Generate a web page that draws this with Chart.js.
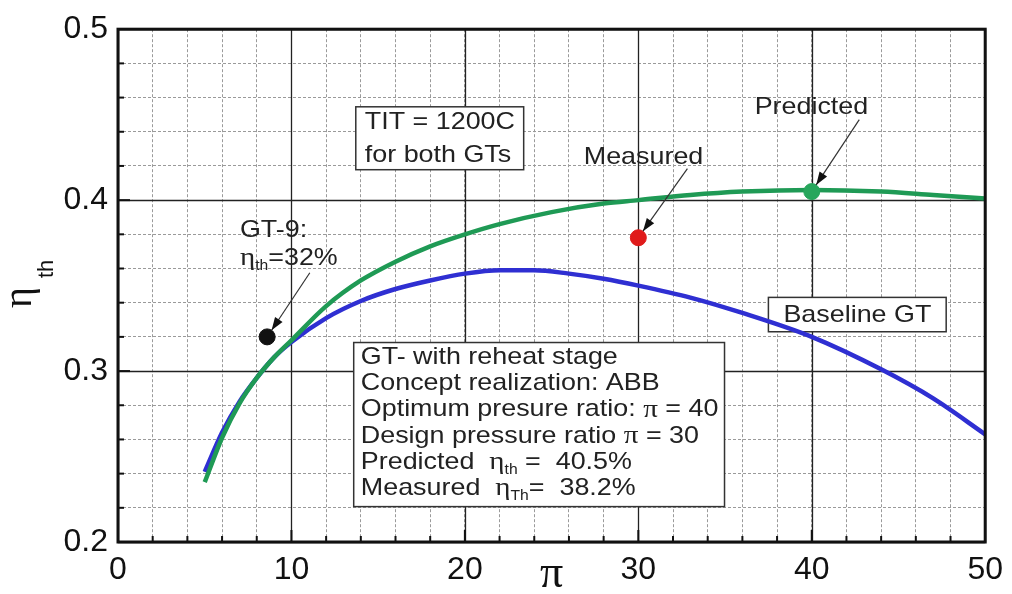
<!DOCTYPE html>
<html>
<head>
<meta charset="utf-8">
<script src="https://cdn.jsdelivr.net/npm/chart.js@4.4.1/dist/chart.umd.min.js"></script>
<style>
  html, body { margin: 0; background: #ffffff; }
</style>
</head>
<body>
<canvas id="effChart" width="1012" height="594"></canvas>
<script>
// pressure ratio (pi) and thermal efficiency
const xReheat = [5, 6, 7, 8, 9, 10, 12, 14, 16, 18, 20, 22, 25, 28, 30, 33, 36, 40, 44, 47, 50];
const yReheat = [0.235, 0.261, 0.281, 0.296, 0.308, 0.318, 0.338, 0.353, 0.364, 0.373, 0.380, 0.386, 0.393, 0.398, 0.400, 0.403, 0.405, 0.406, 0.405, 0.403, 0.401];

const xBaseline = [5, 6, 7, 8, 9, 10, 12, 14, 16, 18, 20, 22, 24, 26, 28, 30, 33, 36, 40, 44, 47, 50];
const yBaseline = [0.241, 0.264, 0.282, 0.296, 0.308, 0.317, 0.331, 0.341, 0.348, 0.353, 0.357, 0.359, 0.359, 0.357, 0.354, 0.350, 0.343, 0.334, 0.320, 0.301, 0.284, 0.263];

const pointNames = ["GT-9", "Measured", "Predicted"];
const pointX = [8.6, 30.0, 40.0];
const pointY = [0.320, 0.378, 0.405];
const pointColors = ["#111111", "#e01b1b", "#27a65c"];

const xTickLabels = [0, 10, 20, 30, 40, 50];
const yTickLabels = [0.2, 0.3, 0.4, 0.5];

const SANS = "'Liberation Sans', Arial, sans-serif";
const SERIF = "'Liberation Serif', 'Times New Roman', serif";
const SX = 1.12; // the figure's lettering is a bit wide
const TEXT = "#222222";

const toXY = (xs, ys) => xs.map((x, i) => ({ x: x, y: ys[i] }));
const isMajor = (v, step) => Math.abs(v / step - Math.round(v / step)) < 1e-6;

// draw a run of text pieces, stretched sideways; pieces may be subscripts
function drawRuns(ctx, runs, x, y, align) {
  let total = 0;
  runs.forEach((r) => {
    ctx.font = r.font;
    total += ctx.measureText(r.t).width * SX;
  });
  let cx = align === "center" ? x - total / 2 : x;
  runs.forEach((r) => {
    ctx.font = r.font;
    const w = ctx.measureText(r.t).width * SX;
    ctx.save();
    ctx.translate(cx, y + (r.dy || 0));
    ctx.scale(SX, 1);
    ctx.textAlign = "left";
    ctx.fillText(r.t, 0, 0);
    ctx.restore();
    cx += w;
  });
}

function arrow(ctx, x1, y1, x2, y2, r) {
  const a = Math.atan2(y2 - y1, x2 - x1);
  const tx = x2 - Math.cos(a) * r;
  const ty = y2 - Math.sin(a) * r;
  ctx.strokeStyle = "#333333";
  ctx.lineWidth = 1.2;
  ctx.beginPath();
  ctx.moveTo(x1, y1);
  ctx.lineTo(tx, ty);
  ctx.stroke();
  const L = 13, W = 4.5;
  ctx.fillStyle = "#111111";
  ctx.beginPath();
  ctx.moveTo(tx, ty);
  ctx.lineTo(tx - Math.cos(a) * L + Math.sin(a) * W, ty - Math.sin(a) * L - Math.cos(a) * W);
  ctx.lineTo(tx - Math.cos(a) * L - Math.sin(a) * W, ty - Math.sin(a) * L + Math.cos(a) * W);
  ctx.closePath();
  ctx.fill();
}

function box(ctx, x1, y1, x2, y2) {
  ctx.fillStyle = "#ffffff";
  ctx.fillRect(x1, y1, x2 - x1, y2 - y1);
  ctx.strokeStyle = "#333333";
  ctx.lineWidth = 1.5;
  ctx.strokeRect(x1, y1, x2 - x1, y2 - y1);
}

const decorPlugin = {
  id: "decor",
  beforeDatasetsDraw(chart) {
    const { ctx, chartArea: a, scales: { x, y } } = chart;
    ctx.save();
    // solid major grid lines
    ctx.strokeStyle = "#222222";
    ctx.lineWidth = 1.3;
    xTickLabels.forEach((v) => {
      const p = Math.round(x.getPixelForValue(v)) + 0.5;
      ctx.beginPath(); ctx.moveTo(p, a.top); ctx.lineTo(p, a.bottom); ctx.stroke();
    });
    yTickLabels.forEach((v) => {
      const p = Math.round(y.getPixelForValue(v)) + 0.5;
      ctx.beginPath(); ctx.moveTo(a.left, p); ctx.lineTo(a.right, p); ctx.stroke();
    });

    // text boxes
    const X = (v) => x.getPixelForValue(v);
    const Y = (v) => y.getPixelForValue(v);
    const main = "24px " + SANS;
    const eta = "26px " + SERIF;
    const sub = "14px " + SANS;
    ctx.textBaseline = "middle";

    box(ctx, X(13.71), Y(0.4546), X(23.39), Y(0.4178));
    ctx.fillStyle = TEXT;
    drawRuns(ctx, [{ t: "TIT = 1200C", font: main }], X(14.23), Y(0.4454));
    drawRuns(ctx, [{ t: "for both GTs", font: main }], X(14.23), Y(0.4264));

    box(ctx, X(37.5), Y(0.3431), X(47.75), Y(0.3230));
    ctx.fillStyle = TEXT;
    drawRuns(ctx, [{ t: "Baseline GT", font: main }], X(42.63), Y(0.3328), "center");

    box(ctx, X(13.59), Y(0.3167), X(34.97), Y(0.2207));
    ctx.fillStyle = TEXT;
    const lines = [
      [{ t: "GT- with reheat stage", font: main }],
      [{ t: "Concept realization: ABB", font: main }],
      [{ t: "Optimum presure ratio: ", font: main }, { t: "π", font: eta }, { t: " = 40", font: main }],
      [{ t: "Design pressure ratio ", font: main }, { t: "π", font: eta }, { t: " = 30", font: main }],
      [{ t: "Predicted  ", font: main }, { t: "η", font: eta }, { t: "th", font: sub, dy: 8 }, { t: " =  40.5%", font: main }],
      [{ t: "Measured  ", font: main }, { t: "η", font: eta }, { t: "Th", font: sub, dy: 8 }, { t: "=  38.2%", font: main }],
    ];
    lines.forEach((runs, i) => {
      drawRuns(ctx, runs, X(14.0), Y(0.3080 - i * 0.01534));
    });
    ctx.restore();
  },
  afterDatasetsDraw(chart) {
    const { ctx, chartArea: a, scales: { x, y } } = chart;
    const X = (v) => x.getPixelForValue(v);
    const Y = (v) => y.getPixelForValue(v);
    ctx.save();

    // frame and inward ticks
    ctx.strokeStyle = "#111111";
    ctx.lineWidth = 2;
    for (let v = 2; v < 50; v += 2) {
      const p = X(v);
      const len = isMajor(v, 10) ? 12 : 6;
      ctx.beginPath(); ctx.moveTo(p, a.bottom); ctx.lineTo(p, a.bottom - len); ctx.stroke();
    }
    for (let v = 0.22; v < 0.5; v += 0.02) {
      const p = Y(v);
      const len = isMajor(v, 0.1) ? 12 : 6;
      ctx.beginPath(); ctx.moveTo(a.left, p); ctx.lineTo(a.left + len, p); ctx.stroke();
    }
    ctx.lineWidth = 3;
    ctx.strokeRect(a.left, a.top, a.right - a.left, a.bottom - a.top);

    // callouts
    const main = "24px " + SANS;
    const eta = "26px " + SERIF;
    const sub = "14px " + SANS;
    ctx.textBaseline = "middle";
    ctx.fillStyle = TEXT;
    drawRuns(ctx, [{ t: "GT-9:", font: main }], X(7.03), Y(0.3822));
    drawRuns(ctx, [{ t: "η", font: eta }, { t: "th", font: sub, dy: 8 }, { t: "=32%", font: main }], X(7.03), Y(0.3661));
    drawRuns(ctx, [{ t: pointNames[1], font: main }], X(30.3), Y(0.4253), "center");
    drawRuns(ctx, [{ t: pointNames[2], font: main }], X(39.98), Y(0.454), "center");

    arrow(ctx, X(11.06), Y(0.3575), X(pointX[0]), Y(pointY[0]), 8);
    arrow(ctx, X(32.83), Y(0.4184), X(pointX[1]), Y(pointY[1]), 8);
    arrow(ctx, X(42.74), Y(0.4471), X(pointX[2]), Y(pointY[2]), 8);

    // axis titles
    ctx.fillStyle = "#111111";
    ctx.textBaseline = "alphabetic";
    ctx.textAlign = "left";
    ctx.save();
    ctx.translate(31, 308);
    ctx.rotate(-Math.PI / 2);
    ctx.font = "40px " + SERIF;
    ctx.fillText("η", 0, 0);
    ctx.font = "22px " + SANS;
    ctx.fillText("th", 30, 22);
    ctx.restore();

    ctx.font = "46px " + SERIF;
    ctx.textAlign = "center";
    ctx.fillText("π", (a.left + a.right) / 2 + 0, 587);
    ctx.restore();
  },
};

const ctx = document.getElementById("effChart").getContext("2d");

new Chart(ctx, {
  type: "line",
  data: {
    datasets: [
      {
        label: "points",
        type: "scatter",
        data: toXY(pointX, pointY),
        showLine: false,
        pointRadius: 8,
        pointBackgroundColor: pointColors,
        pointBorderColor: pointColors,
        pointBorderWidth: 1,
        order: 0,
      },
      {
        label: "GT with reheat stage",
        data: toXY(xReheat, yReheat),
        borderColor: "#1f9a55",
        borderWidth: 4.5,
        pointRadius: 0,
        cubicInterpolationMode: "monotone",
        fill: false,
        order: 1,
      },
      {
        label: "Baseline GT",
        data: toXY(xBaseline, yBaseline),
        borderColor: "#2f2fd2",
        borderWidth: 4.5,
        pointRadius: 0,
        cubicInterpolationMode: "monotone",
        fill: false,
        order: 2,
      },
    ],
  },
  options: {
    responsive: false,
    animation: false,
    layout: { padding: { left: 0, top: 20, right: 26, bottom: 0 } },
    plugins: {
      legend: { display: false },
      tooltip: { enabled: false },
    },
    scales: {
      x: {
        type: "linear",
        min: 0,
        max: 50,
        afterFit: (s) => { s.height = 52; },
        border: { display: false, dash: [3, 2] },
        grid: { color: "#9a9a9a", lineWidth: 1, drawTicks: false },
        ticks: {
          stepSize: 2,
          autoSkip: false,
          maxRotation: 0,
          padding: 9,
          color: "#111111",
          font: { family: SANS, size: 32 },
          callback: (v) => (xTickLabels.includes(Math.round(v)) && isMajor(v, 10) ? String(Math.round(v)) : ""),
        },
      },
      y: {
        type: "linear",
        min: 0.2,
        max: 0.5,
        afterFit: (s) => { s.width = 118; },
        border: { display: false, dash: [3, 2] },
        grid: { color: "#9a9a9a", lineWidth: 1, drawTicks: false },
        ticks: {
          stepSize: 0.02,
          maxTicksLimit: 100,
          autoSkip: false,
          padding: 10,
          color: "#111111",
          font: { family: SANS, size: 32 },
          callback: (v) => (isMajor(v, 0.1) ? v.toFixed(1) : ""),
        },
      },
    },
  },
  plugins: [decorPlugin],
});
</script>
</body>
</html>
